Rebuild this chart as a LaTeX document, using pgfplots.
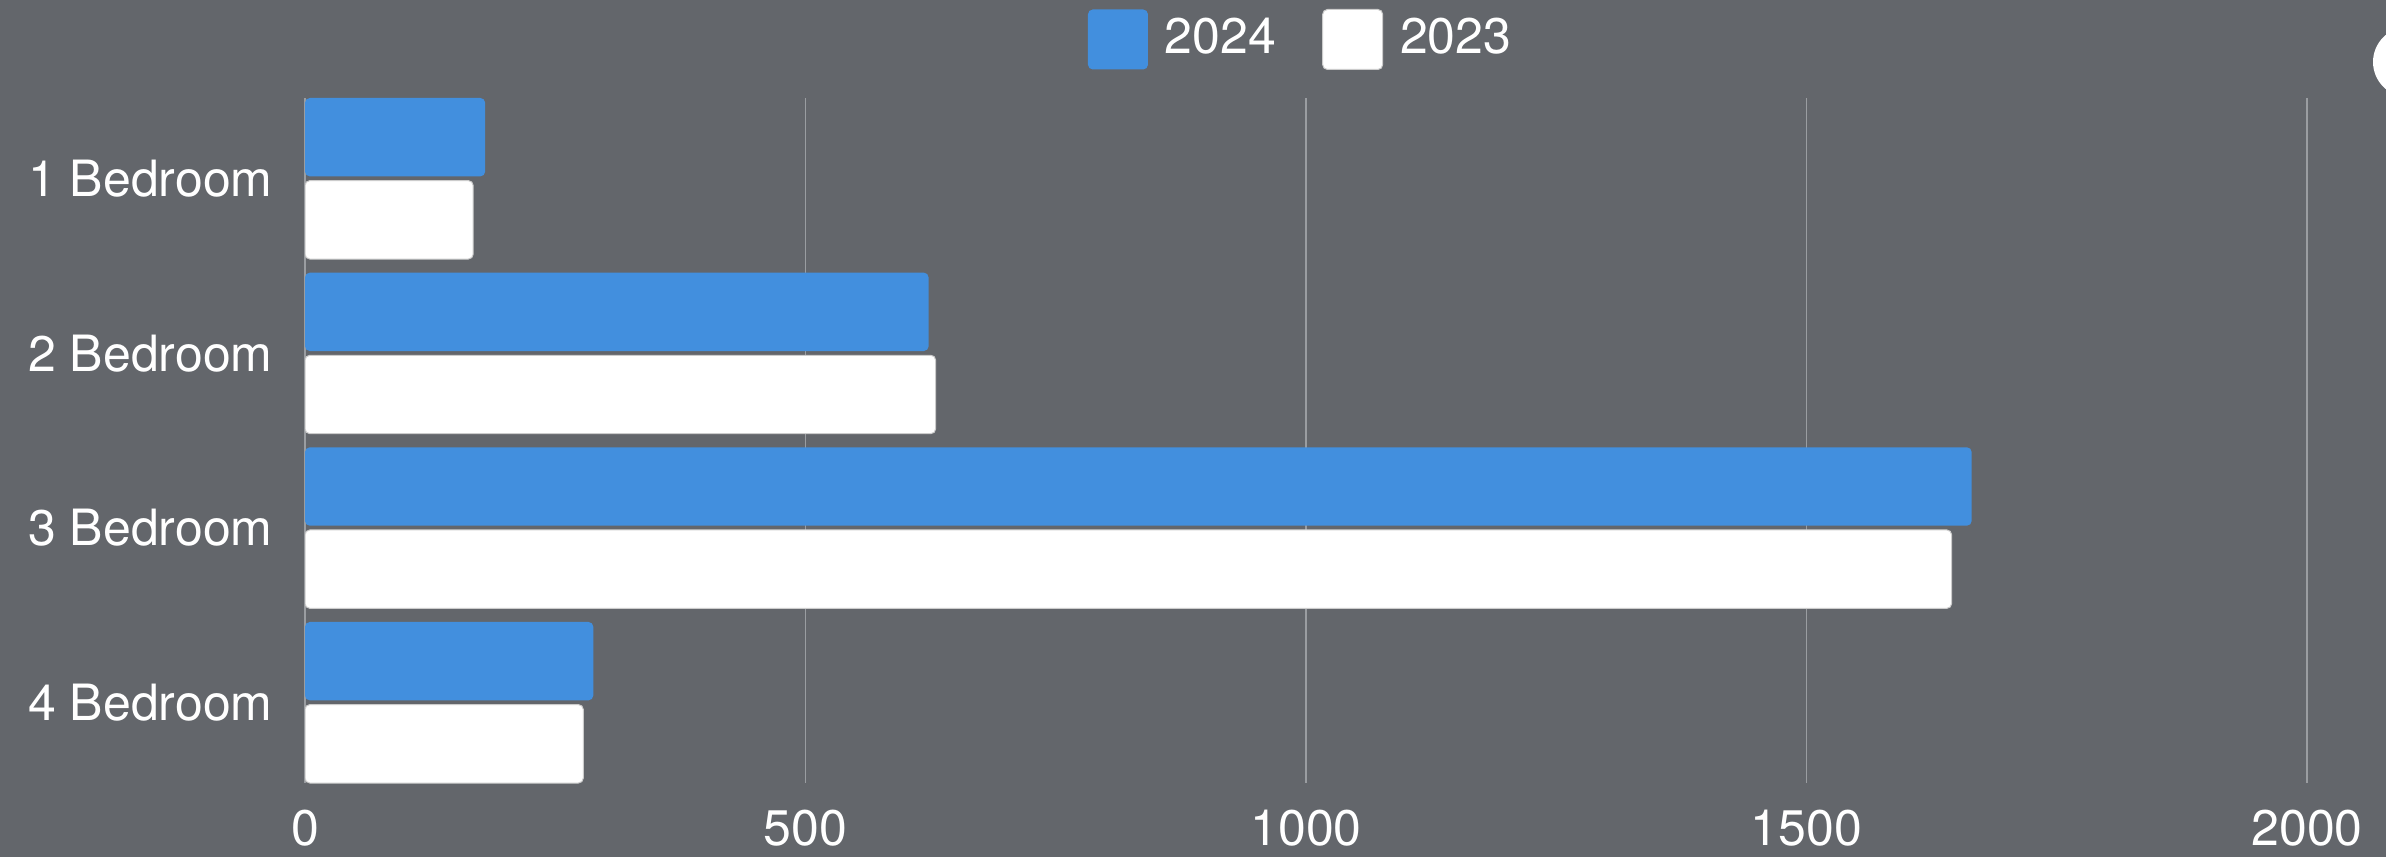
\documentclass[border=0pt]{standalone}
\usepackage{pgfplots}
\pgfplotsset{compat=1.18}
\usepackage{fontspec}
\setmainfont{TeX Gyre Heros}
\definecolor{bg}{HTML}{63666B}
\definecolor{barblue}{HTML}{428FDE}
\definecolor{gridc}{HTML}{9A9DA1}
\begin{document}
\fontsize{12.5pt}{15pt}\selectfont
\begin{tikzpicture}
\path[use as bounding box, fill=bg] (0,0) rectangle (596.5pt,214.25pt);
\begin{axis}[
 at={(76.25pt,18.5pt)}, anchor=south west,
 scale only axis, width=500.5pt, height=171.25pt,
 xmin=0, xmax=2000, ymin=-0.461, ymax=3.461,
 xbar, bar width=19.6pt,
 axis line style={draw=none},
 xtick={0,500,1000,1500,2000},
 ytick={0,1,2,3},
 yticklabels={4 Bedroom,3 Bedroom,2 Bedroom,1 Bedroom},
 major tick length=0pt,
 xmajorgrids, major grid style={gridc, line width=0.3pt},
 tick label style={white, font=\fontsize{12.5pt}{15pt}\selectfont},
 /pgf/number format/assume math mode=true,
 /pgf/number format/1000 sep={},
 yticklabel style={xshift=-3.75pt},
 xticklabel style={yshift=-2.5pt},
 sq legend/.style={legend image code/.code={\fill[##1] (0pt,-7.5pt) rectangle (15pt,7.5pt);}},
 legend columns=2,
 legend style={at={(0.3911,1)}, anchor=north west, yshift=22.25pt,
   draw=none, fill=none, inner sep=0pt, outer sep=0pt,
   nodes={inner sep=0pt, text=white, font=\fontsize{12.5pt}{15pt}\selectfont},
   /tikz/every odd column/.style={column sep=4.25pt},
   /tikz/every even column/.style={column sep=11.5pt}},
]
\addplot[fill=barblue, draw=none, bar shift=10.33pt, rounded corners=1.2pt, sq legend]
  coordinates {(180,3) (623,2) (1665,1) (288,0)};
\addlegendentry{2024}
\addplot[fill=white, draw=gray!40, line width=0.25pt, bar shift=-10.33pt, rounded corners=1.2pt, sq legend]
  coordinates {(168,3) (630,2) (1645,1) (278,0)};
\addlegendentry{2023}
\end{axis}
\fill[white] (602pt,198.75pt) circle (8.75pt);
\end{tikzpicture}
\end{document}
